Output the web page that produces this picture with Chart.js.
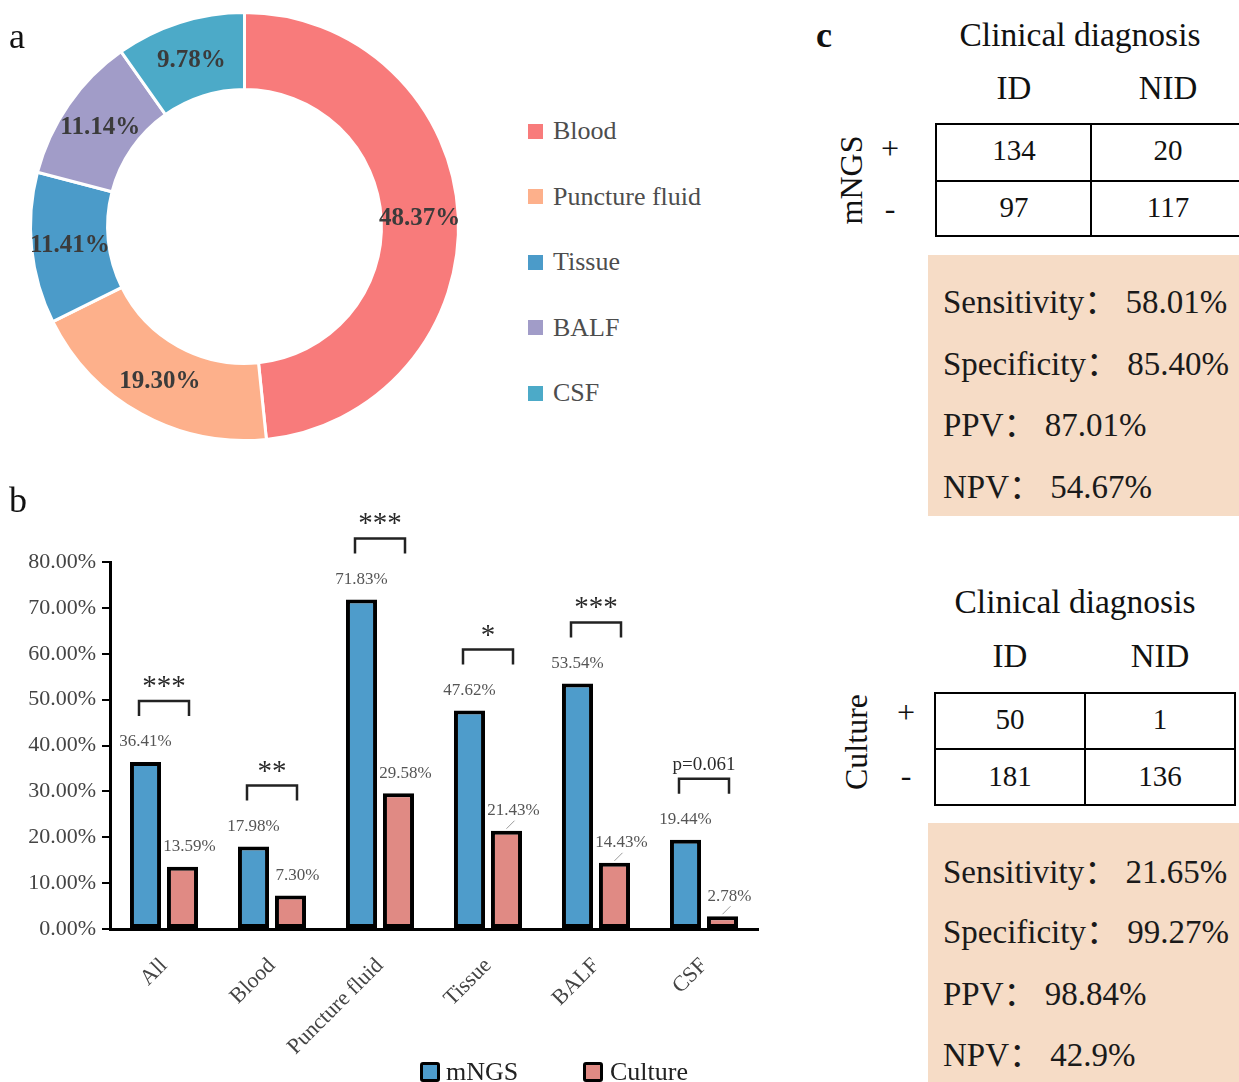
<!DOCTYPE html>
<html lang="en">
<head>
<meta charset="utf-8">
<title>Sample composition and pathogen detection by mNGS and culture</title>
<script src="https://cdn.jsdelivr.net/npm/chart.js@4.4.1/dist/chart.umd.min.js"></script>
<style>
  html, body { margin: 0; padding: 0; background: #fff; }
  body {
    width: 1239px; height: 1082px; overflow: hidden; position: relative;
    font-family: "Liberation Serif", "Times New Roman", serif; color: #1a1a1a;
  }
  .abs { position: absolute; white-space: pre; line-height: 1; }
  .ctr { transform: translate(-50%, -50%); }
  .rot { transform: translate(-50%, -50%) rotate(-90deg); }
  .letter { font-size: 36px; color: #111; }
  canvas { position: absolute; }
  #donut { left: 0; top: 0; }
  #bars { left: 0; top: 490px; }
  .swatch { position: absolute; width: 15px; height: 15px; }
  .legA { font-size: 26px; color: #4d4d4d; }
  .legB-box { position: absolute; width: 20px; height: 20px; box-sizing: border-box;
              border: 3px solid #000; border-radius: 3px; }
  .legB { font-size: 26px; color: #222; }
  .grid { position: absolute; box-sizing: border-box; border: 2px solid #000; }
  .vline { position: absolute; width: 2px; background: #000; }
  .hline { position: absolute; height: 2px; background: #000; }
  .stats { position: absolute; background: #f6dcc6; }
  .colon { font-family: "Noto Sans CJK SC", sans-serif; }
</style>
</head>
<body>
<canvas id="donut" width="490" height="460"></canvas>
<canvas id="bars" width="780" height="592"></canvas>
<div id="overlay"></div>

<script>
// ---- Panel a: sample composition ----
const sampleTypes  = ['Blood', 'Puncture fluid', 'Tissue', 'BALF', 'CSF'];
const sampleShares = [48.37, 19.30, 11.41, 11.14, 9.78];
const sampleColors = ['#f87b7b', '#fdb08b', '#4b9bc9', '#a19cc8', '#4caac8'];

// ---- Panel b: positive rates by sample type ----
const groups          = ['All', 'Blood', 'Puncture fluid', 'Tissue', 'BALF', 'CSF'];
const mngsPositive    = [36.41, 17.98, 71.83, 47.62, 53.54, 19.44];
const culturePositive = [13.59, 7.30, 29.58, 21.43, 14.43, 2.78];
const significance    = ['***', '**', '***', '*', '***', 'p=0.061'];
const yTickLabels     = ['0.00%', '10.00%', '20.00%', '30.00%', '40.00%',
                         '50.00%', '60.00%', '70.00%', '80.00%'];

// ---- Panel c: contingency tables against clinical diagnosis ----
const diagnosisCols   = ['ID', 'NID'];
const mngsCounts      = [[134, 20], [97, 117]];
const cultureCounts   = [[50, 1], [181, 136]];
const metricNames     = ['Sensitivity', 'Specificity', 'PPV', 'NPV'];
const mngsMetrics     = ['58.01%', '85.40%', '87.01%', '54.67%'];
const cultureMetrics  = ['21.65%', '99.27%', '98.84%', '42.9%'];

const SERIF = '"Liberation Serif", "Times New Roman", serif';
const overlay = document.getElementById('overlay');

function addText(text, x, y, cls, style) {
  const d = document.createElement('div');
  d.className = 'abs ' + (cls || '');
  d.textContent = text;
  d.style.left = x + 'px';
  d.style.top = y + 'px';
  if (style) d.style.cssText += style;
  overlay.appendChild(d);
  return d;
}
function addBox(cls, x, y, w, h, style) {
  const d = document.createElement('div');
  d.className = cls;
  d.style.left = x + 'px'; d.style.top = y + 'px';
  if (w != null) d.style.width = w + 'px';
  if (h != null) d.style.height = h + 'px';
  if (style) d.style.cssText += style;
  overlay.appendChild(d);
  return d;
}

// panel letters
addText('a', 9, 18, 'letter');
addText('b', 9, 482, 'letter');
addText('c', 816, 17, 'letter', 'font-weight:bold;');

// ---- doughnut ----
const donutLabels = {
  id: 'donutLabels',
  afterDatasetsDraw(chart) {
    const { ctx } = chart;
    ctx.save();
    ctx.font = 'bold 25px ' + SERIF;
    ctx.fillStyle = '#3b3b3b';
    ctx.textAlign = 'center';
    ctx.textBaseline = 'middle';
    chart.getDatasetMeta(0).data.forEach((arc, i) => {
      const p = arc.tooltipPosition();
      ctx.fillText(sampleShares[i].toFixed(2) + '%', p.x, p.y + 1);
    });
    ctx.restore();
  }
};

new Chart(document.getElementById('donut'), {
  type: 'doughnut',
  data: {
    labels: sampleTypes,
    datasets: [{
      data: sampleShares,
      backgroundColor: sampleColors,
      borderColor: '#ffffff',
      borderWidth: 3
    }]
  },
  options: {
    responsive: false,
    animation: false,
    events: [],
    cutout: '64%',
    layout: { padding: { left: 29, right: 30, top: 11, bottom: 18 } },
    plugins: { legend: { display: false }, tooltip: { enabled: false } }
  },
  plugins: [donutLabels]
});

// doughnut legend
sampleTypes.forEach((name, i) => {
  const cy = 131 + i * 65.5;
  addBox('swatch', 528, cy - 7.5, null, null, 'background:' + sampleColors[i] + ';');
  addText(name, 553, cy - 13, 'legA');
});

// ---- grouped bars ----
const fmt = v => v.toFixed(2) + '%';
const barAnnotations = {
  id: 'barAnnotations',
  afterDatasetsDraw(chart) {
    const { ctx } = chart;
    const m = chart.getDatasetMeta(0).data;
    const c = chart.getDatasetMeta(1).data;
    ctx.save();
    // value labels
    ctx.font = '17px ' + SERIF;
    ctx.fillStyle = '#555';
    ctx.textAlign = 'center';
    ctx.textBaseline = 'middle';
    m.forEach((bar, i) => ctx.fillText(fmt(mngsPositive[i]), bar.x, bar.y - 20));
    c.forEach((bar, i) => ctx.fillText(fmt(culturePositive[i]), bar.x + 7, bar.y - 20));
    // short leader ticks on the lower culture labels
    ctx.strokeStyle = '#9a9a9a';
    ctx.lineWidth = 1;
    [3, 4, 5].forEach(i => {
      const bar = c[i];
      ctx.beginPath();
      ctx.moveTo(bar.x, bar.y - 2);
      ctx.lineTo(bar.x + 8, bar.y - 10);
      ctx.stroke();
    });
    // significance brackets
    ctx.strokeStyle = '#222';
    ctx.lineWidth = 2.5;
    ctx.fillStyle = '#2a2a2a';
    ctx.textBaseline = 'alphabetic';
    m.forEach((bar, i) => {
      const cx = (bar.x + c[i].x) / 2;
      const top = bar.y - 61;
      ctx.beginPath();
      ctx.moveTo(cx - 25, top + 15);
      ctx.lineTo(cx - 25, top);
      ctx.lineTo(cx + 25, top);
      ctx.lineTo(cx + 25, top + 15);
      ctx.stroke();
      const label = significance[i];
      const isP = label.charAt(0) === 'p';
      ctx.font = (isP ? '19px ' : '29px ') + SERIF;
      ctx.fillText(label, cx, top - (isP ? 9 : 6));
    });
    ctx.restore();
  }
};

new Chart(document.getElementById('bars'), {
  type: 'bar',
  data: {
    labels: groups,
    datasets: [
      { label: 'mNGS', data: mngsPositive, backgroundColor: '#4e9ccb',
        borderColor: '#000', borderWidth: 4, borderSkipped: false,
        barPercentage: 0.84, categoryPercentage: 0.685 },
      { label: 'Culture', data: culturePositive, backgroundColor: '#e08a84',
        borderColor: '#000', borderWidth: 4, borderSkipped: false,
        barPercentage: 0.84, categoryPercentage: 0.685 }
    ]
  },
  options: {
    responsive: false,
    animation: false,
    events: [],
    layout: { padding: { top: 72, right: 22, left: 0, bottom: 0 } },
    plugins: { legend: { display: false }, tooltip: { enabled: false } },
    scales: {
      y: {
        min: 0, max: 80,
        ticks: {
          stepSize: 10,
          padding: 6,
          color: '#444',
          font: { family: SERIF, size: 22 },
          callback: (v, idx) => yTickLabels[idx]
        },
        grid: { drawOnChartArea: false, drawTicks: true, tickLength: 8, color: '#000', lineWidth: 2 },
        border: { display: true, color: '#000', width: 3 },
        afterFit: s => { s.width = 110; }
      },
      x: {
        ticks: {
          color: '#444',
          font: { family: SERIF, size: 22 },
          minRotation: 45, maxRotation: 45,
          padding: 16
        },
        grid: { display: false },
        border: { display: true, color: '#000', width: 3 },
        afterFit: s => { s.height = 153; }
      }
    }
  },
  plugins: [barAnnotations]
});

// bar legend
[['mNGS', '#4e9ccb', 420, 446], ['Culture', '#e08a84', 583, 610]].forEach(([name, col, bx, tx]) => {
  addBox('legB-box', bx, 1062, null, null, 'background:' + col + ';');
  addText(name, tx, 1059, 'legB');
});

// ---- contingency panels ----
function contingencyPanel(p) {
  addText('Clinical diagnosis', p.titleX, p.titleY, 'ctr', 'font-size:33.5px;color:#111;');
  diagnosisCols.forEach((name, j) =>
    addText(name, p.colX[j], p.headY, 'ctr', 'font-size:33px;color:#111;'));
  addBox('grid', p.left, p.rows[0], p.right - p.left, p.rows[2] - p.rows[0]);
  addBox('vline', p.split - 1, p.rows[0], null, p.rows[2] - p.rows[0]);
  addBox('hline', p.left, p.rows[1] - 1, p.right - p.left, null);
  p.counts.forEach((row, r) => row.forEach((v, j) => {
    const cy = (p.rows[r] + p.rows[r + 1]) / 2 - 2;
    addText(String(v), p.colX[j], cy, 'ctr', 'font-size:29px;color:#111;');
  }));
  addText('+', p.signX, p.signY[0], 'ctr', 'font-size:32px;color:#111;');
  addText('-', p.signX, p.signY[1], 'ctr', 'font-size:32px;color:#111;');
  addText(p.side, p.sideX, p.sideY, 'rot', 'font-size:32px;color:#111;');
  addBox('stats', 928, p.boxTop, 320, p.boxBottom - p.boxTop);
  metricNames.forEach((name, k) => {
    const line = addText('', 943, p.lineY[k] - 17, '', 'font-size:33px;color:#1a1a1a;');
    line.appendChild(document.createTextNode(name));
    const colon = document.createElement('span');
    colon.className = 'colon';
    colon.textContent = '：';
    line.appendChild(colon);
    line.appendChild(document.createTextNode(' ' + p.metrics[k]));
  });
}

contingencyPanel({
  titleX: 1080, titleY: 35, colX: [1014, 1168], headY: 88,
  left: 935, split: 1091, right: 1247, rows: [123, 181, 237],
  counts: mngsCounts, signX: 890, signY: [148, 208],
  side: 'mNGS', sideX: 851, sideY: 180,
  boxTop: 255, boxBottom: 516, lineY: [300, 362, 423, 485], metrics: mngsMetrics
});
contingencyPanel({
  titleX: 1075, titleY: 602, colX: [1010, 1160], headY: 656,
  left: 934, split: 1085, right: 1236, rows: [692, 749, 806],
  counts: cultureCounts, signX: 906, signY: [712, 775],
  side: 'Culture', sideX: 856, sideY: 742,
  boxTop: 823, boxBottom: 1090, lineY: [870, 930, 992, 1053], metrics: cultureMetrics
});
</script>
</body>
</html>
